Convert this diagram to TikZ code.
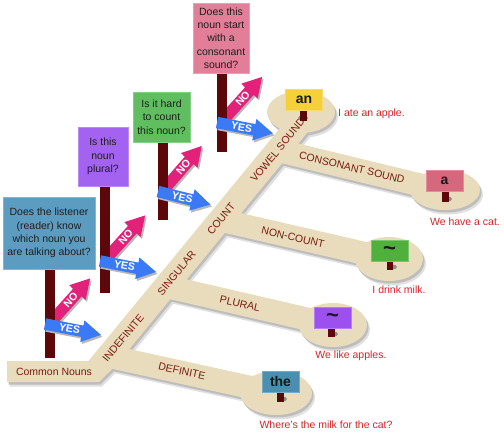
\documentclass[tikz,border=0pt]{standalone}
\usepackage{fontspec}
\setmainfont{Liberation Sans}
\usetikzlibrary{calc}
\definecolor{roadc}{RGB}{233,220,188}
\definecolor{roadtext}{RGB}{122,28,16}
\definecolor{postc}{RGB}{92,8,10}
\definecolor{yesc}{RGB}{58,122,246}
\definecolor{noc}{RGB}{226,34,122}
\definecolor{qblue}{RGB}{92,156,192}
\definecolor{qpurple}{RGB}{163,98,240}
\definecolor{qgreen}{RGB}{96,190,96}
\definecolor{qpink}{RGB}{226,126,152}
\definecolor{ayellow}{RGB}{246,208,58}
\definecolor{apink}{RGB}{214,104,126}
\definecolor{agreen}{RGB}{80,176,60}
\definecolor{apurple}{RGB}{156,80,240}
\definecolor{ateal}{RGB}{76,142,176}
\definecolor{sentred}{RGB}{214,36,40}
\newcommand\roadpaths[1]{%
  \fill[#1] (7,361) -- (88.5,361) -- (291.6,114) -- (322.6,114) -- (123.7,356) -- (112,369) -- (99,382) -- (7,382) -- cycle;
  \draw[#1, line width=23] (112,357) -- (276,393);
  \draw[#1, line width=23] (165.5,286.3) -- (333,325);
  \draw[#1, line width=23] (220,220) -- (389,259);
  \draw[#1, line width=23] (277.4,150.3) -- (445,191);
  \fill[#1] (301,112) ellipse [x radius=34, y radius=21];
  \fill[#1] (445,190) ellipse [x radius=35, y radius=20];
  \fill[#1] (389,259) ellipse [x radius=34, y radius=22];
  \fill[#1] (333,325) ellipse [x radius=34, y radius=22];
  \fill[#1] (276,393) ellipse [x radius=36, y radius=22];
}
\newcommand\yesarrow[5]{%
  \begin{scope}[shift={(#2+1.5,#3+2)}, rotate=#4]
    \fill[black!28] (0,-5.75) -- ({#5-19},-5.75) -- ({#5-19},-11) -- (#5,0) -- ({#5-19},11) -- ({#5-19},5.75) -- (0,5.75) -- cycle;
  \end{scope}
  \begin{scope}[shift={(#2,#3)}, rotate=#4]
    \fill[yesc] (0,-5.75) -- ({#5-19},-5.75) -- ({#5-19},-11) -- (#5,0) -- ({#5-19},11) -- ({#5-19},5.75) -- (0,5.75) -- cycle;
    \node[arrtext] (#1) at (25,0) {YES};
  \end{scope}}
\newcommand\noarrow[5]{%
  \begin{scope}[shift={(#2+1.5,#3+2)}, rotate=#4]
    \fill[black!28] (0,-5.75) -- ({#5-19},-5.75) -- ({#5-19},-11) -- (#5,0) -- ({#5-19},11) -- ({#5-19},5.75) -- (0,5.75) -- cycle;
  \end{scope}
  \begin{scope}[shift={(#2,#3)}, rotate=#4]
    \fill[noc] (0,-5.75) -- ({#5-19},-5.75) -- ({#5-19},-11) -- (#5,0) -- ({#5-19},11) -- ({#5-19},5.75) -- (0,5.75) -- cycle;
    \node[arrtext] (#1) at (31,0) {NO};
  \end{scope}}
\begin{document}
\begin{tikzpicture}[x=1pt,y=-1pt,
  rlabel/.style={font=\fontsize{10.5}{12}\selectfont, text=roadtext, inner sep=0, text height=7.6, text depth=0},
  qsign/.style={font=\fontsize{10.5}{13.3}\selectfont, align=center, text=black!88, inner sep=0, line width=0.6},
  asign/.style={minimum width=37, minimum height=21, inner sep=0, font=\bfseries\fontsize{14}{14}\selectfont, text=black!90, line width=0.6},
  tsign/.style={minimum width=37, minimum height=21, inner sep=0, font=\bfseries\fontsize{22}{22}\selectfont, text=black!90, line width=0.6},
  sent/.style={font=\fontsize{10.5}{12}\selectfont, text=sentred, inner sep=0, anchor=base},
  arrtext/.style={transform shape, text=white, font=\bfseries\fontsize{10.5}{10.5}\selectfont, inner sep=0}]
\fill[white] (0,0) rectangle (504,432);
\useasboundingbox (0,0) rectangle (504,432);
% road shadows and road
\begin{scope}[shift={(3,4.5)}]\roadpaths{black!12}\end{scope}
\begin{scope}[shift={(1.5,2.5)}]\roadpaths{black!26}\end{scope}
\roadpaths{roadc}
% road labels
\node[rlabel, rotate=50.6] (lind) at (123,338) {INDEFINITE};
\node[rlabel, rotate=50.6] (lsing) at (176.4,273) {SINGULAR};
\node[rlabel, rotate=50.6] (lcount) at (221,219) {COUNT};
\node[rlabel, rotate=50.6] (lvowel) at (277.5,150) {VOWEL SOUND};
\node[rlabel, rotate=-12.5] (ldef) at (182,371) {DEFINITE};
\node[rlabel, rotate=-13] (lplur) at (240,303.5) {PLURAL};
\node[rlabel, rotate=-13] (lnonc) at (293,237) {NON-COUNT};
\node[rlabel, rotate=-13.3] (lcons) at (352,167.5) {CONSONANT SOUND};
\node[font=\fontsize{10.5}{12}\selectfont, text=roadtext, inner sep=0, anchor=base] (cn) at (54,375) {Common Nouns};
% answer signs
\fill[black!45] (303,118) ellipse [x radius=5, y radius=2.5];
\fill[postc] (299.5,110) rectangle (306.5,121);
\node[asign, fill=ayellow, draw=ayellow!75!white] (aan) at (304,100) {an};
\fill[black!45] (447,199) ellipse [x radius=5, y radius=2.5];
\fill[postc] (441.5,191) rectangle (448.5,202);
\node[asign, fill=apink, draw=apink!75!white] (aa) at (444.5,181) {a};
\fill[black!45] (392,267) ellipse [x radius=5, y radius=2.5];
\fill[postc] (386.5,261) rectangle (393,270);
\node[tsign, fill=agreen, draw=agreen!75!white] (anc) at (389.5,251) {\raisebox{-2pt}{\textasciitilde}};
\fill[black!45] (333,334) ellipse [x radius=5, y radius=2.5];
\fill[postc] (328,327) rectangle (335,337);
\node[tsign, fill=apurple, draw=apurple!75!white] (apl) at (332.5,317.5) {\raisebox{-2pt}{\textasciitilde}};
\fill[black!45] (282,399) ellipse [x radius=5, y radius=2.5];
\fill[postc] (277,391) rectangle (283.5,402);
\node[asign, fill=ateal, draw=ateal!75!white] (athe) at (280.5,381.5) {the};
% sentences
\node[sent, anchor=base west] (s1) at (338,116) {I ate an apple.};
\node[sent] (s2) at (465,225.7) {We have a cat.};
\node[sent] (s3) at (399,293.5) {I drink milk.};
\node[sent] (s4) at (351,358.5) {We like apples.};
\node[sent] (s5) at (326,428.5) {Where's the milk for the cat?};
% question 1
\noarrow{no1}{50}{323}{48}{60}
\fill[postc] (45,268) rectangle (55,358);
\yesarrow{yes1}{45}{324}{-11}{57}
\node[qsign, fill=qblue, draw=qblue!75!white, minimum width=92, minimum height=72] (q1) at (49,233) {Does the listener\\(reader) know\\which noun you\\are talking about?};
% question 2
\noarrow{no2}{105}{260}{48}{60}
\fill[postc] (100,185) rectangle (110,293);
\yesarrow{yes2}{100}{261}{-11}{57}
\node[qsign, fill=qpurple, draw=qpurple!75!white, minimum width=50, minimum height=59] (q2) at (103,156.5) {Is this\\noun\\plural?};
% question 3
\noarrow{no3}{163}{190.5}{49}{59}
\fill[postc] (158,141) rectangle (168,220);
\yesarrow{yes3}{158}{191.5}{-14}{54}
\node[qsign, fill=qgreen, draw=qgreen!75!white, minimum width=57, minimum height=50] (q3) at (161.5,117) {Is it hard\\to count\\this noun?};
% question 4
\noarrow{no4}{222}{121.5}{48}{60}
\fill[postc] (217,72) rectangle (227,152);
\yesarrow{yes4}{217}{122.5}{-11}{57}
\node[qsign, fill=qpink, draw=qpink!75!white, minimum width=56, minimum height=70] (q4) at (221,38) {Does this\\noun start\\with a\\consonant\\sound?};
\end{tikzpicture}
\end{document}
